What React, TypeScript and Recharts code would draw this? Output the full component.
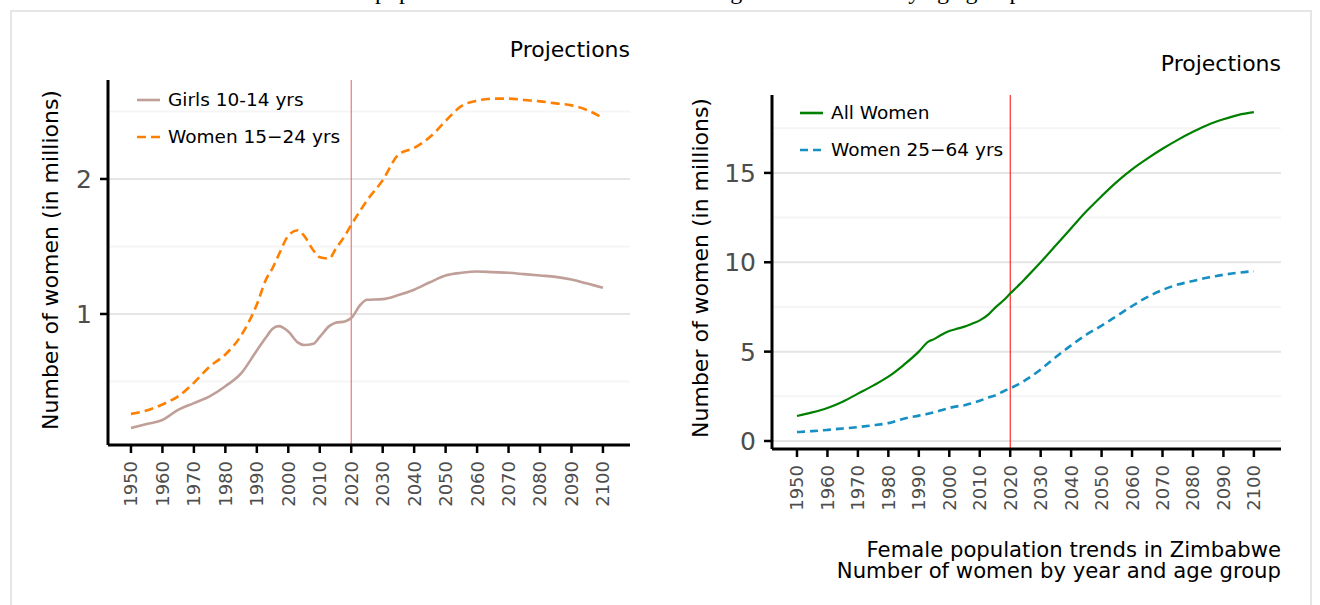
import React from "react";
import {
  LineChart,
  Line,
  XAxis,
  YAxis,
  ReferenceLine,
  Legend,
} from "recharts";

// years
const years = [
  1950, 1955, 1960, 1965, 1970, 1975, 1980, 1985, 1990, 1993, 1995, 1997, 2000,
  2003, 2005, 2008, 2010, 2013, 2015, 2018, 2020, 2023, 2025, 2030, 2035, 2040,
  2045, 2050, 2055, 2060, 2065, 2070, 2075, 2080, 2085, 2090, 2095, 2100,
];

// millions
const girls10to14 = [
  0.156, 0.185, 0.215, 0.29, 0.34, 0.39, 0.465, 0.56, 0.73, 0.83, 0.89, 0.91,
  0.87, 0.79, 0.77, 0.78, 0.83, 0.91, 0.935, 0.945, 0.97, 1.07, 1.105, 1.11,
  1.14, 1.18, 1.235, 1.285, 1.305, 1.315, 1.31, 1.305, 1.295, 1.285, 1.275,
  1.255, 1.225, 1.195,
];
const women15to24 = [
  0.26, 0.285, 0.33, 0.39, 0.49, 0.61, 0.7, 0.84, 1.07, 1.26, 1.34, 1.44, 1.58,
  1.62, 1.58, 1.47, 1.42, 1.41, 1.48, 1.58, 1.66, 1.77, 1.84, 1.99, 2.18, 2.23,
  2.31, 2.43, 2.54, 2.58, 2.595, 2.595, 2.585, 2.575, 2.56, 2.545, 2.51, 2.45,
];
const allWomen = [
  1.4, 1.6, 1.85, 2.2, 2.65, 3.1, 3.6, 4.25, 5.0, 5.55, 5.7, 5.9, 6.15, 6.3,
  6.4, 6.6, 6.75, 7.1, 7.45, 7.9, 8.25, 8.75, 9.1, 10.0, 10.95, 11.9, 12.85,
  13.7, 14.5, 15.2, 15.8, 16.35, 16.85, 17.3, 17.7, 18.0, 18.25, 18.4,
];
const women25to64 = [
  0.5, 0.55, 0.62, 0.7, 0.78, 0.88, 1.0, 1.25, 1.42, 1.52, 1.6, 1.7, 1.85, 1.95,
  2.0, 2.15, 2.25, 2.45, 2.55, 2.8, 2.95, 3.2, 3.4, 4.0, 4.7, 5.35, 5.95, 6.45,
  7.0, 7.55, 8.05, 8.45, 8.75, 8.95, 9.15, 9.3, 9.42, 9.5,
];

const xTicks = [
  1950, 1960, 1970, 1980, 1990, 2000, 2010, 2020, 2030, 2040, 2050, 2060, 2070,
  2080, 2090, 2100,
];
const projectionYear = 2020;

const leftYTicks = [1, 2];
const leftMinor = [0.5, 1.5, 2.5];
const rightYTicks = [0, 5, 10, 15];
const rightMinor = [2.5, 7.5, 12.5, 17.5];

const leftData = years.map((year, i) => ({
  year,
  girls: girls10to14[i],
  young: women15to24[i],
}));
const rightData = years.map((year, i) => ({
  year,
  all: allWomen[i],
  adult: women25to64[i],
}));

const TICK_GREY = "#4d4d4d";

const XTick = (props: any) => {
  const { x, y, payload } = props;
  const ay = y + 6;
  return (
    <text
      x={x}
      y={ay}
      dy="0.36em"
      textAnchor="end"
      transform={`rotate(-90, ${x}, ${ay})`}
      fill={TICK_GREY}
      fontSize={18}
    >
      {payload.value}
    </text>
  );
};

const renderLegend = (props: any) => {
  const { payload } = props;
  return (
    <div>
      {(payload || []).map((entry: any) => (
        <div
          key={entry.value}
          style={{ display: "flex", alignItems: "center", height: 37 }}
        >
          <svg width={23} height={6}>
            <line
              x1={0}
              y1={3}
              x2={23}
              y2={3}
              stroke={entry.color}
              strokeWidth={2.6}
              strokeDasharray={entry.payload?.strokeDasharray}
            />
          </svg>
          <span style={{ marginLeft: 8, fontSize: 18.5, color: "#000" }}>
            {entry.value}
          </span>
        </div>
      ))}
    </div>
  );
};

const axisProps = {
  axisLine: { stroke: "#000", strokeWidth: 3 },
  tickLine: { stroke: "#000", strokeWidth: 2.5 },
  tickSize: 8,
};

export default function App() {
  return (
    <div
      style={{
        position: "fixed",
        left: 0,
        top: 0,
        width: 1320,
        height: 605,
        background: "#fff",
        fontFamily: "DejaVu Sans, sans-serif",
        overflow: "hidden",
      }}
    >
      <div
        style={{
          position: "absolute",
          left: 40,
          top: -21,
          width: 1240,
          textAlign: "center",
          fontFamily: "Liberation Serif, serif",
          fontSize: 24,
          lineHeight: "24px",
          whiteSpace: "nowrap",
        }}
      >
        Female population of Zimbabwe: number of girls and women by age group
      </div>
      <div
        style={{
          position: "absolute",
          left: 10,
          top: 10,
          width: 1298,
          height: 620,
          border: "2px solid #e6e6e6",
        }}
      />

      {/* left panel */}
      <div style={{ position: "absolute", left: 0, top: 0 }}>
        <LineChart
          width={660}
          height={520}
          data={leftData}
          margin={{ top: 80, right: 30, bottom: 0, left: 0 }}
        >
          <XAxis
            dataKey="year"
            type="number"
            domain={[1942.7, 2108.6]}
            ticks={xTicks}
            interval={0}
            height={75}
            tick={<XTick />}
            allowDataOverflow
            {...axisProps}
          />
          <YAxis
            type="number"
            domain={[0.0296, 2.733]}
            ticks={leftYTicks}
            width={108}
            tickMargin={8}
            tick={{ fill: TICK_GREY, fontSize: 25 }}
            allowDataOverflow
            {...axisProps}
          />
          {leftMinor.map((v) => (
            <ReferenceLine key={`m${v}`} y={v} stroke="#f5f5f5" strokeWidth={2} />
          ))}
          {leftYTicks.map((v) => (
            <ReferenceLine key={`M${v}`} y={v} stroke="#e5e5e5" strokeWidth={2} />
          ))}
          <ReferenceLine x={projectionYear} stroke="#f25c5c" strokeWidth={1} />
          <Legend
            layout="vertical"
            align="center"
            verticalAlign="middle"
            content={renderLegend}
            wrapperStyle={{ top: 81, left: 137, width: 260 }}
          />
          <Line
            dataKey="girls"
            name="Girls 10-14 yrs"
            type="monotone"
            stroke="#bf9f98"
            strokeWidth={2.6}
            dot={false}
            isAnimationActive={false}
          />
          <Line
            dataKey="young"
            name="Women 15−24 yrs"
            type="monotone"
            stroke="#ff8000"
            strokeWidth={2.6}
            strokeDasharray="9 5"
            dot={false}
            isAnimationActive={false}
          />
        </LineChart>
      </div>

      {/* right panel */}
      <div style={{ position: "absolute", left: 660, top: 0 }}>
        <LineChart
          width={660}
          height={524}
          data={rightData}
          margin={{ top: 95, right: 39, bottom: 0, left: 0 }}
        >
          <XAxis
            dataKey="year"
            type="number"
            domain={[1941.8, 2108.9]}
            ticks={xTicks}
            interval={0}
            height={75}
            tick={<XTick />}
            allowDataOverflow
            {...axisProps}
          />
          <YAxis
            type="number"
            domain={[-0.448, 19.36]}
            ticks={rightYTicks}
            width={112}
            tickMargin={8}
            tick={{ fill: TICK_GREY, fontSize: 25 }}
            allowDataOverflow
            {...axisProps}
          />
          {rightMinor.map((v) => (
            <ReferenceLine key={`m${v}`} y={v} stroke="#f5f5f5" strokeWidth={2} />
          ))}
          {rightYTicks.map((v) => (
            <ReferenceLine key={`M${v}`} y={v} stroke="#e5e5e5" strokeWidth={2} />
          ))}
          <ReferenceLine x={projectionYear} stroke="#ff0000" strokeWidth={1} />
          <Legend
            layout="vertical"
            align="center"
            verticalAlign="middle"
            content={renderLegend}
            wrapperStyle={{ top: 94, left: 140, width: 260 }}
          />
          <Line
            dataKey="all"
            name="All Women"
            type="monotone"
            stroke="#008000"
            strokeWidth={2.2}
            dot={false}
            isAnimationActive={false}
          />
          <Line
            dataKey="adult"
            name="Women 25−64 yrs"
            type="monotone"
            stroke="#168fc2"
            strokeWidth={2.6}
            strokeDasharray="8 5"
            dot={false}
            isAnimationActive={false}
          />
        </LineChart>
      </div>

      {/* y axis titles */}
      <div
        style={{
          position: "absolute",
          left: 50,
          top: 260,
          transform: "translate(-50%, -50%) rotate(-90deg)",
          fontSize: 22,
          whiteSpace: "nowrap",
        }}
      >
        Number of women (in millions)
      </div>
      <div
        style={{
          position: "absolute",
          left: 700,
          top: 268,
          transform: "translate(-50%, -50%) rotate(-90deg)",
          fontSize: 22,
          whiteSpace: "nowrap",
        }}
      >
        Number of women (in millions)
      </div>

      <div
        style={{
          position: "absolute",
          right: 1320 - 630,
          top: 37,
          fontSize: 22,
          lineHeight: "26px",
        }}
      >
        Projections
      </div>
      <div
        style={{
          position: "absolute",
          right: 1320 - 1281,
          top: 51,
          fontSize: 22,
          lineHeight: "26px",
        }}
      >
        Projections
      </div>

      <div
        style={{
          position: "absolute",
          right: 1320 - 1281,
          top: 540,
          fontSize: 21.2,
          lineHeight: "20.5px",
          textAlign: "right",
        }}
      >
        <div>Female population trends in Zimbabwe</div>
        <div>Number of women by year and age group</div>
      </div>
    </div>
  );
}
